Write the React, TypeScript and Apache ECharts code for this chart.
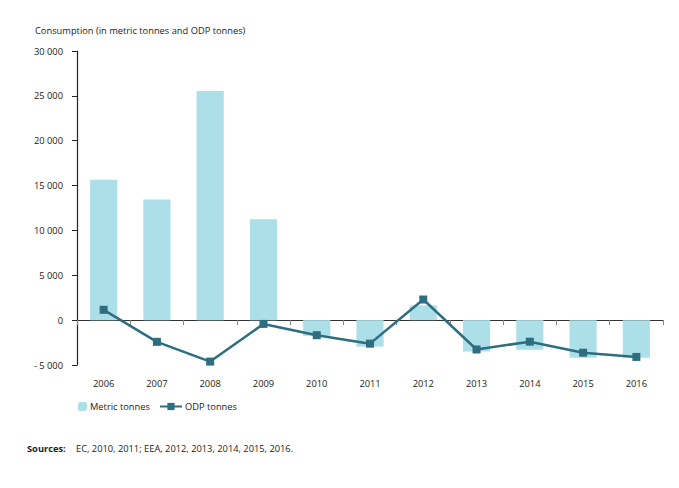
import React, { useEffect, useRef } from "react";
import * as echarts from "echarts";

const years = ["2006", "2007", "2008", "2009", "2010", "2011", "2012", "2013", "2014", "2015", "2016"];
const metricTonnes = [15650, 13450, 25550, 11250, -1750, -2950, 1650, -3500, -3300, -4200, -4200];
const odpTonnes = [1150, -2420, -4620, -420, -1680, -2620, 2300, -3270, -2400, -3630, -4100];
const yTicks = { min: -5000, max: 30000, step: 5000 };

const FONT = "'Open Sans', 'Noto Sans', sans-serif";
const FS = 9.3;

function fmt(v: number): string {
  const s = Math.abs(v).toString().replace(/\B(?=(\d{3})+(?!\d))/g, " ");
  return v < 0 ? "- " + s : s;
}

export default function App() {
  const ref = useRef<HTMLDivElement>(null);
  useEffect(() => {
    if (!ref.current) return;
    const chart = echarts.init(ref.current, undefined, { renderer: "svg" });
    chart.setOption({
      animation: false,
      textStyle: { fontFamily: FONT },
      grid: { left: 77, right: 16, top: 51, bottom: 123, containLabel: false },
      xAxis: {
        type: "category",
        data: years,
        axisLine: { onZero: true, lineStyle: { color: "#333", width: 1.2 } },
        axisTick: { show: true, alignWithLabel: false, length: 5, lineStyle: { color: "#888" } },
        axisLabel: { margin: 14, fontSize: FS, color: "#222", fontFamily: FONT },
        splitLine: { show: false },
      },
      yAxis: {
        type: "value",
        min: yTicks.min,
        max: yTicks.max,
        interval: yTicks.step,
        axisLine: { show: true, lineStyle: { color: "#222", width: 1.2 } },
        axisTick: { show: true, length: 5, lineStyle: { color: "#222" } },
        axisLabel: { fontSize: FS, color: "#222", margin: 14, fontFamily: FONT, formatter: (v: number) => fmt(v) },
        splitLine: { show: false },
      },
      legend: [
        {
          data: ["Metric tonnes"],
          left: 73,
          top: 397,
          itemWidth: 9,
          itemHeight: 9,
          itemGap: 4,
          textStyle: { fontSize: FS, color: "#222", fontFamily: FONT, padding: [0, 0, 0, -2] },
        },
        {
          data: ["ODP tonnes"],
          left: 154,
          top: 397,
          itemWidth: 22,
          itemHeight: 9,
          textStyle: { fontSize: FS, color: "#222", fontFamily: FONT, padding: [0, 0, 0, -2] },
        },
      ],
      series: [
        {
          name: "Metric tonnes",
          type: "bar",
          data: metricTonnes,
          barWidth: "51%",
          itemStyle: { color: "#addfe8" },
        },
        {
          name: "ODP tonnes",
          type: "line",
          data: odpTonnes,
          symbol: "rect",
          symbolSize: 8,
          lineStyle: { color: "#2d6e80", width: 2.5 },
          itemStyle: { color: "#2d6e80" },
          z: 5,
        },
      ],
      graphic: [
        {
          type: "text",
          left: 35,
          top: 26,
          style: { text: "Consumption (in metric tonnes and ODP tonnes)", fontSize: FS, fill: "#222", fontFamily: FONT },
        },
        {
          type: "text",
          left: 27,
          top: 444,
          style: { text: "Sources:", fontSize: FS, fontWeight: "bold", fill: "#222", fontFamily: FONT },
        },
        {
          type: "text",
          left: 76,
          top: 444,
          style: { text: "EC, 2010, 2011; EEA, 2012, 2013, 2014, 2015, 2016.", fontSize: FS, fill: "#222", fontFamily: FONT },
        },
      ],
    });
    return () => chart.dispose();
  }, []);
  return <div ref={ref} style={{ position: "fixed", left: 0, top: 0, width: 679, height: 488, background: "#fff" }} />;
}
